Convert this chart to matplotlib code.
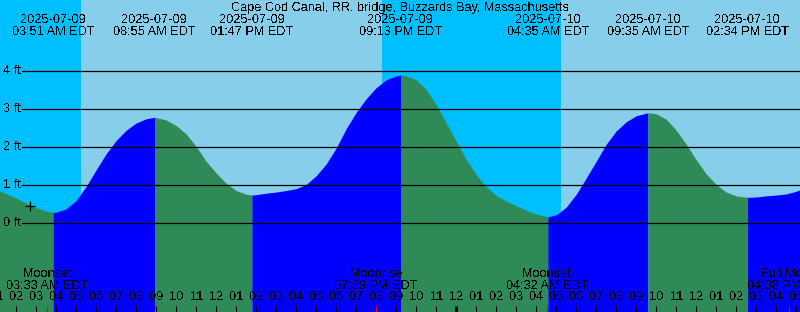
import numpy as np
import pandas as pd
import matplotlib
matplotlib.use('Agg')
import matplotlib.pyplot as plt

plt.rcParams['font.family'] = ['Liberation Sans', 'DejaVu Sans']
plt.rcParams['text.antialiased'] = False

title = 'Cape Cod Canal, RR. bridge, Buzzards Bay, Massachusetts'
day0 = pd.Timestamp('2025-07-09 00:00')

# tide curve (hours after 2025-07-09 00:00, feet)
curveHours = [1.0, 1.5, 2.0, 2.5, 3.0, 3.5, 4.0, 4.5, 5.0, 5.5, 6.0, 6.5, 7.0, 7.5, 8.0, 8.5,
              9.5, 10.0, 10.5, 11.0, 11.5, 12.0, 12.5, 13.0, 13.5, 14.0, 14.5, 15.0, 15.5, 16.0,
              16.5, 17.0, 17.5, 18.0, 18.5, 19.0, 19.5, 20.0, 20.5, 21.0, 21.5, 22.0, 22.5, 23.0,
              23.5, 24.0, 24.5, 25.0, 25.5, 26.0, 26.5, 27.0, 27.5, 28.0, 29.0, 29.5, 30.0, 30.5,
              31.0, 31.5, 32.0, 32.5, 33.0, 34.0, 34.5, 35.0, 35.5, 36.0, 36.5, 37.0, 37.5, 38.0,
              39.0, 39.5, 40.0, 40.5, 41.0, 41.5]
curveFeet = [0.89, 0.78, 0.66, 0.53, 0.41, 0.32, 0.29, 0.38, 0.60, 0.97, 1.41, 1.83, 2.18, 2.45, 2.64, 2.75,
             2.72, 2.57, 2.35, 2.02, 1.63, 1.32, 1.05, 0.86, 0.76, 0.75, 0.79, 0.82, 0.86, 0.91,
             1.02, 1.25, 1.56, 1.98, 2.49, 2.92, 3.28, 3.57, 3.78, 3.88, 3.88, 3.78, 3.52, 3.12,
             2.64, 2.16, 1.68, 1.28, 0.96, 0.73, 0.58, 0.46, 0.34, 0.24, 0.22, 0.42, 0.76, 1.19,
             1.63, 2.08, 2.43, 2.67, 2.83, 2.88, 2.74, 2.45, 2.08, 1.67, 1.30, 1.02, 0.82, 0.72,
             0.69, 0.72, 0.74, 0.77, 0.84, 0.95]

# high / low events
eventTimes = ['2025-07-09 03:51', '2025-07-09 08:55', '2025-07-09 13:47', '2025-07-09 21:13',
              '2025-07-10 04:35', '2025-07-10 09:35', '2025-07-10 14:34']
eventFeet = [0.28, 2.79, 0.74, 3.90, 0.17, 2.91, 0.68]
eventKind = ['L', 'H', 'L', 'H', 'L', 'H', 'L']

# moon events
moonTimes = ['2025-07-09 03:33', '2025-07-09 19:59', '2025-07-10 04:32', '2025-07-10 16:38']
moonNames = ['Moonset', 'Moonrise', 'Moonset', 'Full Moon']

# sunrise / sunset
sunTimes = ['2025-07-09 05:14', '2025-07-09 20:17', '2025-07-10 05:14']

# current reading marker
nowHour = 2.69
nowFeet = 0.455

ftLines = [0, 1, 2, 3, 4]

dayColor = '#87CEEB'
nightColor = '#00BFFF'
fallColor = '#2E8B57'
riseColor = '#0000FF'
fs = 9.2


def toHours(s):
    return (pd.Timestamp(s) - day0) / pd.Timedelta(hours=1)


eventH = np.array([toHours(s) for s in eventTimes])
moonH = np.array([toHours(s) for s in moonTimes])
sunH = np.array([toHours(s) for s in sunTimes])

allH = np.concatenate([curveHours, eventH])
allF = np.concatenate([curveFeet, eventFeet])
order = np.argsort(allH)
allH = allH[order]
allF = allF[order]

xMin, xMax = 1.19, 41.19
yMin, yMax = -2.34, 5.88

fig = plt.figure(figsize=(8, 3.12), dpi=100)
ax = fig.add_axes([0, 0, 1, 1])
ax.set_xlim(xMin, xMax)
ax.set_ylim(yMin, yMax)
ax.set_axis_off()

# sky: night / day
edges = [xMin - 1] + list(sunH) + [xMax + 1]
for i in range(len(edges) - 1):
    ax.axvspan(edges[i], edges[i + 1], color=nightColor if i % 2 == 0 else dayColor, lw=0, zorder=0)

# water: falling after high, rising after low
bounds = [allH[0]] + list(eventH) + [allH[-1]]
for i in range(len(bounds) - 1):
    a, b = bounds[i], bounds[i + 1]
    mask = (allH >= a) & (allH <= b)
    if i == 0:
        rising = eventKind[0] == 'H'
    else:
        rising = eventKind[i - 1] == 'L'
    ax.fill_between(allH[mask], yMin, allF[mask], color=riseColor if rising else fallColor,
                    lw=0, zorder=1)

# foot lines
for ft in ftLines:
    ax.axhline(ft, xmin=22 / 800, xmax=1, color='k', lw=0.9, zorder=2)
    ax.text(3 / 800, ft, f'{ft} ft', transform=ax.get_yaxis_transform(), ha='left', va='center',
            fontsize=fs, zorder=3)

ax.plot([nowHour], [nowFeet], marker='+', color='k', ms=7, mew=0.9, zorder=3)

xform = ax.get_xaxis_transform()

# title and event labels
ax.text(0.5, 0.975, title, transform=ax.transAxes, ha='center', va='center', fontsize=fs)
for s, h in zip(eventTimes, eventH):
    t = pd.Timestamp(s)
    ax.text(h, 0.937, t.strftime('%Y-%m-%d'), transform=xform, ha='center', va='center', fontsize=fs)
    ax.text(h, 0.899, t.strftime('%I:%M %p') + ' EDT', transform=xform, ha='center', va='center',
            fontsize=fs)

# hour ticks
for h in range(1, 42):
    hh = h % 12
    if hh == 0:
        hh = 12
    ax.text(h, 0.047, f'{hh:02d}', transform=xform, ha='center', va='center', fontsize=fs, zorder=3)
    ax.plot([h, h], [0, 0.02], transform=xform, color='k', lw=2 if h % 24 == 0 else 0.8, zorder=3,
            solid_capstyle='butt')

# moon events
for s, h, name in zip(moonTimes, moonH, moonNames):
    t = pd.Timestamp(s)
    ax.plot([h, h], [0, 0.02], transform=xform, color='#FF0000', lw=0.8, zorder=4,
            solid_capstyle='butt')
    ax.text(h, 0.122, name, transform=xform, ha='center', va='center', fontsize=fs, zorder=3)
    ax.text(h, 0.084, t.strftime('%I:%M %p') + ' EDT', transform=xform, ha='center', va='center',
            fontsize=fs, zorder=3)

fig.savefig('out.png', dpi=100)
